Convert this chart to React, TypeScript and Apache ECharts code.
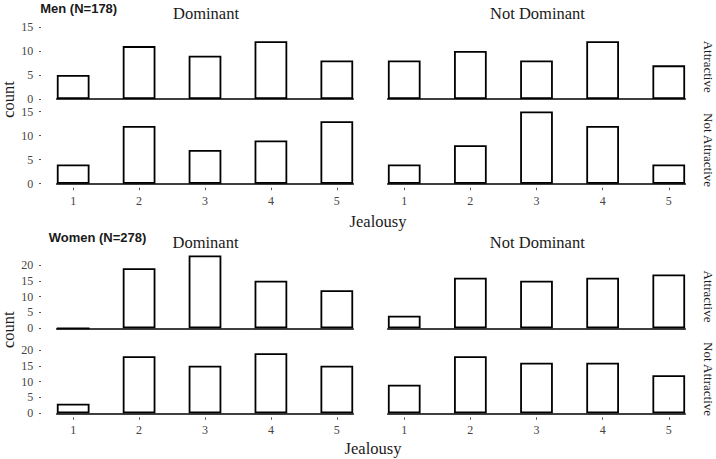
import React, { useEffect, useRef } from "react";
import * as echarts from "echarts";

const categories = [1, 2, 3, 4, 5];
const menDomAttr = [5, 11, 9, 12, 8];
const menDomNotAttr = [4, 12, 7, 9, 13];
const menNotDomAttr = [8, 10, 8, 12, 7];
const menNotDomNotAttr = [4, 8, 15, 12, 4];
const womenDomAttr = [0, 19, 23, 15, 12];
const womenDomNotAttr = [3, 18, 15, 19, 15];
const womenNotDomAttr = [4, 16, 15, 16, 17];
const womenNotDomNotAttr = [9, 18, 16, 16, 12];
const menYTicks = [0, 5, 10, 15];
const womenYTicks = [0, 5, 10, 15, 20];
const colTitles = ["Dominant", "Not Dominant"];
const rowTitles = ["Attractive", "Not Attractive"];
const sexTitles = ["Men (N=178)", "Women (N=278)"];
const xTitle = "Jealousy";
const yTitle = "count";

const SERIF = "'Liberation Serif', 'Times New Roman', serif";
const SANS = "'Liberation Sans', Arial, sans-serif";

export default function App() {
  const ref = useRef<HTMLDivElement>(null);
  useEffect(() => {
    if (!ref.current) return;
    const chart = echarts.init(ref.current, null, { renderer: "svg" });
    const colLeft = [56.7, 387.7];
    const colWidth = [296.6, 297.6];
    const H = 76;
    const panels = [
      { v: menDomAttr, col: 0, bottom: 99, yMax: 15.8, ticks: menYTicks, xl: false },
      { v: menNotDomAttr, col: 1, bottom: 99, yMax: 15.8, ticks: menYTicks, xl: false },
      { v: menDomNotAttr, col: 0, bottom: 183.7, yMax: 15.8, ticks: menYTicks, xl: true },
      { v: menNotDomNotAttr, col: 1, bottom: 183.7, yMax: 15.8, ticks: menYTicks, xl: true },
      { v: womenDomAttr, col: 0, bottom: 328.3, yMax: 24, ticks: womenYTicks, xl: false },
      { v: womenNotDomAttr, col: 1, bottom: 328.3, yMax: 24, ticks: womenYTicks, xl: false },
      { v: womenDomNotAttr, col: 0, bottom: 413.3, yMax: 24, ticks: womenYTicks, xl: true },
      { v: womenNotDomNotAttr, col: 1, bottom: 413.3, yMax: 24, ticks: womenYTicks, xl: true },
    ];
    const grid: any[] = [];
    const xAxis: any[] = [];
    const yAxis: any[] = [];
    const series: any[] = [];
    panels.forEach((p, i) => {
      grid.push({ left: colLeft[p.col], width: colWidth[p.col], top: p.bottom - H, height: H });
      const mainIdx = xAxis.length;
      xAxis.push({
        type: "value", gridIndex: i, min: 0.75, max: 5.25,
        axisLine: { show: true, lineStyle: { color: "#000", width: 1.6 } },
        axisTick: { show: false }, axisLabel: { show: false }, splitLine: { show: false },
      });
      if (p.xl) {
        xAxis.push({
          type: "value", gridIndex: i, min: 0.75, max: 5.25, position: "bottom", offset: 4,
          axisLine: { show: false },
          axisTick: { show: true, length: 2.5, customValues: categories, lineStyle: { color: "#555", width: 1 } },
          axisLabel: { show: true, customValues: categories, margin: 7, color: "#444", fontFamily: SERIF, fontSize: 12 },
          splitLine: { show: false },
        });
      }
      const showY = p.col === 0;
      yAxis.push({
        type: "value", gridIndex: i, min: 0, max: p.yMax, offset: 15.7,
        axisLine: { show: false },
        axisTick: { show: showY, length: 2, customValues: p.ticks, lineStyle: { color: "#555", width: 1 } },
        axisLabel: { show: showY, customValues: p.ticks, margin: 7.7, color: "#444", fontFamily: SERIF, fontSize: 12 },
        splitLine: { show: false },
      });
      series.push({
        type: "bar", xAxisIndex: mainIdx, yAxisIndex: i, barWidth: 32.7,
        data: categories.map((c, k) => [c, p.v[k]]),
        itemStyle: { color: "#fff", borderColor: "#000", borderWidth: 1.8 },
        z: 3,
      });
    });
    const txt = (text: string, x: number, y: number, font: string, fill: string, rotation = 0) => ({
      type: "text", x, y, rotation,
      style: { text, font, fill, align: "center", verticalAlign: "middle" },
    });
    const graphic: any[] = [
      txt(sexTitles[0], 78.7, 8, `bold 13px ${SANS}`, "#1a1a1a"),
      txt(sexTitles[1], 97.5, 237.5, `bold 13px ${SANS}`, "#1a1a1a"),
      txt(colTitles[0], 206, 13.5, `16.5px ${SERIF}`, "#1a1a1a"),
      txt(colTitles[1], 537.5, 13.5, `16.5px ${SERIF}`, "#1a1a1a"),
      txt(colTitles[0], 205.5, 242.5, `16.5px ${SERIF}`, "#1a1a1a"),
      txt(colTitles[1], 537.3, 242.5, `16.5px ${SERIF}`, "#1a1a1a"),
      txt(rowTitles[0], 708, 66.7, `13px ${SERIF}`, "#1a1a1a", -Math.PI / 2),
      txt(rowTitles[1], 708, 150, `13px ${SERIF}`, "#1a1a1a", -Math.PI / 2),
      txt(rowTitles[0], 708, 296.5, `13px ${SERIF}`, "#1a1a1a", -Math.PI / 2),
      txt(rowTitles[1], 708, 379, `13px ${SERIF}`, "#1a1a1a", -Math.PI / 2),
      txt(xTitle, 378, 221.5, `16.5px ${SERIF}`, "#1a1a1a"),
      txt(xTitle, 373, 448.3, `16.5px ${SERIF}`, "#1a1a1a"),
      txt(yTitle, 8, 99.5, `16.5px ${SERIF}`, "#1a1a1a", Math.PI / 2),
      txt(yTitle, 8, 329.7, `16.5px ${SERIF}`, "#1a1a1a", Math.PI / 2),
    ];
    chart.setOption({
      animation: false,
      backgroundColor: "#fff",
      grid, xAxis, yAxis, series, graphic,
    });
    return () => chart.dispose();
  }, []);
  return (
    <div
      ref={ref}
      style={{ position: "absolute", left: 0, top: 0, width: 716, height: 459 }}
    />
  );
}
